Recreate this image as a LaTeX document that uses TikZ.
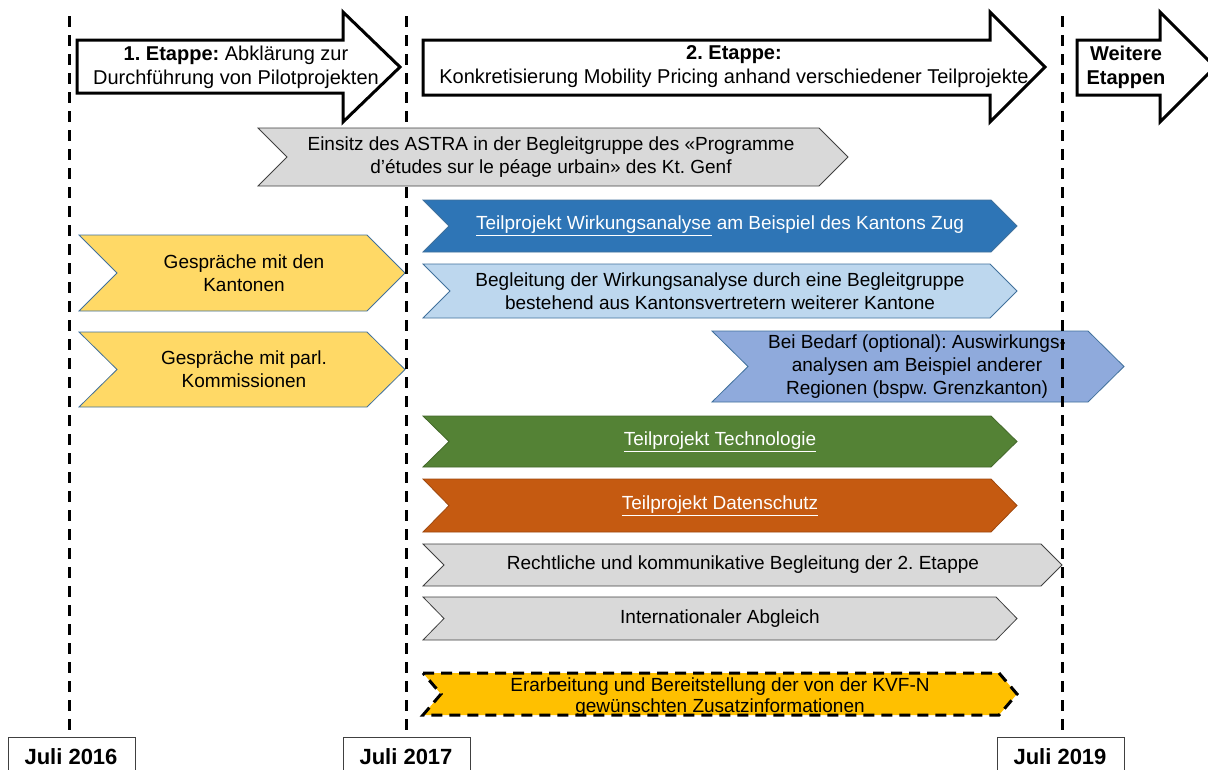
\documentclass[tikz,border=0pt]{standalone}
\usepackage{fontspec}
\setmainfont{Liberation Sans}
\usetikzlibrary{calc}
\frenchspacing
\definecolor{cgray}{HTML}{D9D9D9}
\definecolor{cgrayline}{HTML}{404040}
\definecolor{cblue}{HTML}{2E75B6}
\definecolor{clblue}{HTML}{BDD7EE}
\definecolor{cmblue}{HTML}{8FAADC}
\definecolor{cyellow}{HTML}{FFD966}
\definecolor{cgreen}{HTML}{548235}
\definecolor{corange}{HTML}{C55A11}
\definecolor{cgold}{HTML}{FFC000}
\definecolor{cbline}{HTML}{41719C}
\newcommand\mychev[6]{%
  \path[#1] (#2,#3) -- ({#4-#6},#3) -- (#4,{(#3+#5)/2}) -- ({#4-#6},#5) -- (#2,#5) -- ({#2+#6},{(#3+#5)/2}) -- cycle;}
\newcommand\myarrow[4]{% x1, xbase, xtip, ybottom
  \path[bigarrow] (#1,40) -- (#2,40) -- (#2,12) -- (#3,67) -- (#2,122) -- (#2,#4) -- (#1,#4) -- cycle;}
\tikzset{
  txt/.style={font=\fontsize{19}{23}\selectfont, align=center, inner sep=0pt},
  wtxt/.style={txt, text=white},
  datetxt/.style={txt, font=\fontsize{22}{26}\selectfont\bfseries},
  bigarrow/.style={draw=black, line width=3pt, fill=white, line join=miter},
  graychev/.style={fill=cgray, draw=cgrayline, line width=0.8pt},
  bluechev/.style={fill=cblue, draw=cbline, line width=0.8pt},
  lbluechev/.style={fill=clblue, draw=cbline, line width=0.8pt},
  mbluechev/.style={fill=cmblue, draw=cbline, line width=0.8pt},
  yellowchev/.style={fill=cyellow, draw=cbline, line width=0.8pt},
  greenchev/.style={fill=cgreen, draw=cgreen!80!black, line width=0.8pt},
  orangechev/.style={fill=corange, draw=corange!80!black, line width=0.8pt},
  goldchev/.style={fill=cgold, draw=black, line width=3pt, dash pattern=on 11pt off 7pt},
  timeline/.style={draw=black, line width=3pt, dash pattern=on 11pt off 8pt},
  datebox/.style={draw=cgrayline, line width=1pt, fill=white, minimum width=127pt, minimum height=40pt, inner sep=0pt, anchor=north west},
}
\begin{document}
\begin{tikzpicture}[x=1pt,y=-1pt]
\useasboundingbox (0,0) rectangle (1208,769);
\fill[white] (0,0) rectangle (1208,769);
% top stage arrows
\myarrow{77}{343}{400}{93}
\myarrow{423}{990}{1045}{95}
\myarrow{1077}{1160}{1215}{95}
\node[txt, font=\fontsize{20}{24}\selectfont] (e1) at (236,67) {\textbf{1. Etappe:} Abklärung zur\\Durchführung von Pilotprojekten};
\node[txt, font=\fontsize{20}{24}\selectfont] (e2) at (734,67) {\textbf{2. Etappe:}\\Konkretisierung Mobility Pricing anhand verschiedener Teilprojekte};
\node[txt, font=\fontsize{20}{24}\selectfont\bfseries] (e3) at (1126,67) {Weitere\\Etappen};
% chevrons
\mychev{bluechev}{423}{200}{1017}{252}{26}
\node[wtxt] (wa) at (720,226) {\underline{Teilprojekt Wirkungsanalyse} am Beispiel des Kantons Zug};
\mychev{lbluechev}{423}{264}{1017}{318}{27}
\node[txt] (bg) at (720,291) {Begleitung der Wirkungsanalyse durch eine Begleitgruppe\\bestehend aus Kantonsvertretern weiterer Kantone};
\mychev{yellowchev}{79}{235}{405}{311}{38}
\node[txt] (gk) at (244,273) {Gespräche mit den\\Kantonen};
\mychev{yellowchev}{79}{332}{405}{407}{38}
\node[txt] (gp) at (244,369) {Gespräche mit parl.\\Kommissionen};
\mychev{mbluechev}{712}{331}{1124}{402}{36}
\node[txt] (bb) at (917,367) {Bei Bedarf (optional): Auswirkungs-\\analysen am Beispiel anderer\\Regionen (bspw. Grenzkanton)};
\mychev{greenchev}{423}{416}{1017}{467}{26}
\node[wtxt] (tt) at (720,442) {\underline{Teilprojekt Technologie}};
\mychev{orangechev}{423}{479}{1017}{532}{26}
\node[wtxt] (td) at (720,506) {\underline{Teilprojekt Datenschutz}};
\mychev{graychev}{423}{544}{1062}{586}{21}
\node[txt] (rk) at (743,565) {Rechtliche und kommunikative Begleitung der 2. Etappe};
\mychev{graychev}{423}{597}{1017}{640}{21}
\node[txt] (ia) at (720,619) {Internationaler Abgleich};
\mychev{goldchev}{423}{673}{1017}{715}{18}
\node[txt, font=\fontsize{19}{21}\selectfont] (kv) at (720,697) {Erarbeitung und Bereitstellung der von der KVF-N\\gewünschten Zusatzinformationen};
% time lines
\coordinate (l1t) at (69,16);
\coordinate (l2t) at (406,16);
\coordinate (l3t) at (1062,16);
\node[datebox] (d1) at (8,737) {};
\node[datebox] (d2) at (343,737) {};
\node[datebox] (d3) at (997,737) {};
\draw[timeline] (l1t) -- (l1t |- 0,733);
\draw[timeline] (l2t) -- (l2t |- 0,733);
\draw[timeline] (l3t) -- (l3t |- 0,733);
\node[datetxt] (j1) at (71,757) {Juli 2016};
\node[datetxt] (j2) at (406,757) {Juli 2017};
\node[datetxt] (j3) at (1060,757) {Juli 2019};
% Einsitz chevron drawn over the time line
\mychev{graychev}{258}{128}{848}{186}{29}
\node[txt] (es) at (551,157) {Einsitz des ASTRA in der Begleitgruppe des «Programme\\d’études sur le péage urbain» des Kt. Genf};
\end{tikzpicture}
\end{document}
